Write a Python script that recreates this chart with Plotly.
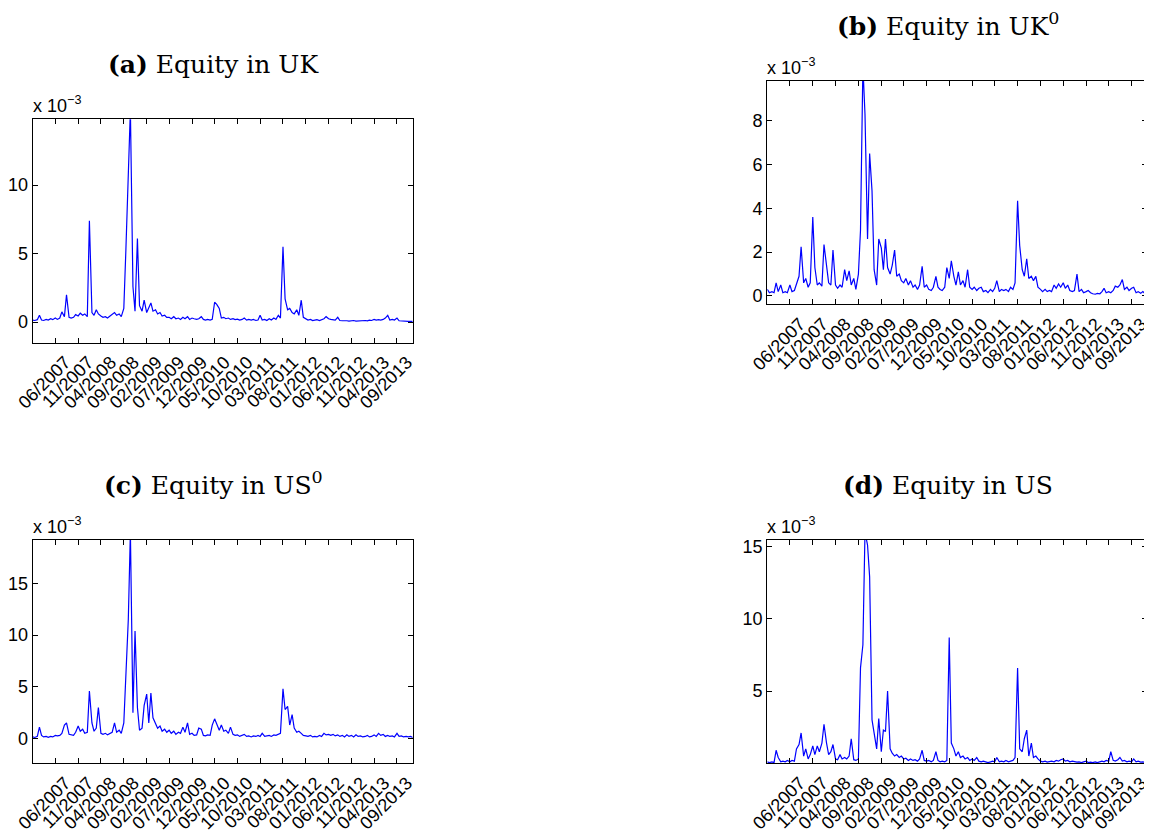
import pandas as pd
import plotly.graph_objects as go

# semi-monthly sampling dates (1st and 15th of each month), Jan 2007 - Dec 2013
dates = pd.date_range("2007-01-01", "2013-12-15", freq="SMS")

tick_dates = ["2007-06-01", "2007-11-01", "2008-04-01", "2008-09-01", "2009-02-01",
              "2009-07-01", "2009-12-01", "2010-05-01", "2010-10-01", "2011-03-01",
              "2011-08-01", "2012-01-01", "2012-06-01", "2012-11-01", "2013-04-01",
              "2013-09-01"]
tick_labels = ["06/2007", "11/2007", "04/2008", "09/2008", "02/2009", "07/2009",
               "12/2009", "05/2010", "10/2010", "03/2011", "08/2011", "01/2012",
               "06/2012", "11/2012", "04/2013", "09/2013"]

# values in units of 1e-3
equity_uk = [
    0.15, 0.12, 0.18, 0.5, 0.15, 0.12, 0.2, 0.15, 0.25, 0.18, 0.3, 0.2,
    0.3, 0.75, 0.4, 2.0, 0.35, 0.3, 0.35, 0.55, 0.45, 0.65, 0.5, 0.6,
    0.4, 7.4, 0.7, 0.5, 0.9, 0.6, 0.45, 0.35, 0.4, 0.3, 0.45, 0.6,
    0.7, 0.5, 0.6, 0.4, 1.0, 5.3, 10.8, 15.5, 2.6, 0.8, 6.1, 1.2,
    0.8, 1.6, 0.7, 1.0, 1.4, 0.8, 0.9, 0.6, 0.7, 0.45, 0.5, 0.35,
    0.35, 0.25, 0.4, 0.25, 0.3, 0.2, 0.35, 0.25, 0.4, 0.2, 0.3, 0.25,
    0.2, 0.25, 0.4, 0.2, 0.15, 0.2, 0.15, 0.2, 1.45, 1.3, 1.0, 0.3,
    0.35, 0.25, 0.3, 0.2, 0.25, 0.18, 0.22, 0.15, 0.2, 0.3, 0.15, 0.2,
    0.15, 0.2, 0.12, 0.15, 0.5, 0.15, 0.2, 0.12, 0.25, 0.15, 0.3, 0.2,
    0.5, 0.3, 5.5, 1.7, 0.9, 1.0, 0.7, 0.6, 0.9, 0.5, 1.6, 0.35,
    0.25, 0.15, 0.2, 0.12, 0.15, 0.18, 0.12, 0.2, 0.25, 0.4, 0.25, 0.2,
    0.2, 0.15, 0.35, 0.12, 0.1, 0.12, 0.1, 0.08, 0.1, 0.12, 0.08, 0.1,
    0.08, 0.1, 0.12, 0.1, 0.15, 0.12, 0.2, 0.15, 0.18, 0.15, 0.2, 0.3,
    0.5, 0.15, 0.2, 0.15, 0.3, 0.1, 0.08, 0.05, 0.08, 0.06, 0.05, 0.05,
]

equity_uk0 = [
    0.3, 0.15, 0.2, 0.15, 0.6, 0.2, 0.5, 0.15, 0.2, 0.15, 0.5, 0.2,
    0.25, 0.6, 0.9, 2.25, 0.6, 0.8, 0.4, 0.6, 3.6, 1.3, 0.5, 0.6,
    0.45, 2.35, 1.5, 0.6, 0.5, 2.1, 0.5, 0.35, 0.5, 0.4, 1.2, 0.7,
    1.15, 0.5, 0.8, 0.3, 1.0, 3.0, 10.5, 8.3, 2.6, 6.5, 4.8, 1.2,
    0.5, 2.6, 2.2, 1.2, 2.6, 1.3, 1.0, 1.4, 2.1, 0.9, 1.0, 0.7,
    0.6, 0.8, 0.5, 0.7, 0.4, 0.5, 0.3, 0.5, 1.35, 0.4, 0.5, 0.3,
    0.25, 0.4, 0.9, 0.4, 0.3, 0.25, 0.4, 1.3, 0.8, 1.6, 0.9, 0.5,
    1.1, 0.5, 0.7, 0.4, 1.2, 0.4, 0.3, 0.4, 0.25, 0.35, 0.4, 0.2,
    0.25, 0.15, 0.3, 0.2, 0.35, 0.7, 0.2, 0.3, 0.25, 0.3, 0.2, 0.4,
    0.3, 0.6, 4.35, 2.3, 1.2, 0.9, 1.7, 0.8, 0.9, 0.7, 0.9, 0.4,
    0.3, 0.2, 0.3, 0.2, 0.25, 0.2, 0.5, 0.35, 0.55, 0.4, 0.6, 0.35,
    0.5, 0.25, 0.2, 0.25, 1.0, 0.2, 0.3, 0.15, 0.2, 0.25, 0.15, 0.1,
    0.08, 0.12, 0.1, 0.2, 0.35, 0.15, 0.2, 0.15, 0.25, 0.45, 0.4, 0.5,
    0.75, 0.3, 0.4, 0.25, 0.35, 0.4, 0.15, 0.2, 0.12, 0.2, 0.1, 0.15,
]

equity_us0 = [
    0.15, 0.1, 0.2, 1.1, 0.3, 0.15, 0.2, 0.12, 0.2, 0.15, 0.3, 0.25,
    0.3, 0.5, 1.3, 1.5, 0.4, 0.35, 0.3, 0.6, 1.2, 0.7, 0.9, 0.5,
    0.6, 4.6, 1.5, 0.7, 1.0, 3.0, 0.5, 0.4, 0.5, 0.35, 0.5, 0.6,
    1.5, 0.6, 0.8, 0.5, 1.5, 6.1, 11.5, 20.0, 2.5, 10.4, 3.0, 0.8,
    1.0, 3.2, 4.3, 1.5, 4.4, 2.0, 1.4, 1.0, 1.2, 0.7, 0.9, 0.6,
    0.8, 0.5, 0.7, 0.4, 0.6, 0.5, 1.1, 0.6, 1.5, 0.4, 0.5, 0.3,
    0.35, 1.0, 0.9, 0.3, 0.25, 0.35, 0.3, 1.3, 1.9, 1.4, 0.8, 1.3,
    0.7, 0.8, 0.5, 1.1, 0.4, 0.3, 0.35, 0.2, 0.3, 0.4, 0.2, 0.25,
    0.15, 0.25, 0.2, 0.3, 0.2, 0.5, 0.2, 0.25, 0.3, 0.2, 0.35, 0.3,
    0.4, 0.5, 4.8, 2.8, 3.1, 1.3, 2.3, 1.0, 0.6, 0.7, 0.5, 0.3,
    0.25, 0.2, 0.3, 0.15, 0.2, 0.15, 0.3, 0.2, 0.5, 0.35, 0.4, 0.3,
    0.4, 0.25, 0.35, 0.2, 0.3, 0.15, 0.35, 0.2, 0.3, 0.15, 0.35, 0.2,
    0.25, 0.15, 0.2, 0.3, 0.15, 0.2, 0.35, 0.2, 0.5, 0.3, 0.4, 0.2,
    0.3, 0.2, 0.25, 0.15, 0.5, 0.2, 0.25, 0.15, 0.2, 0.15, 0.2, 0.1,
]

equity_us = [
    0.1, 0.05, 0.1, 0.05, 0.9, 0.4, 0.1, 0.15, 0.1, 0.2, 0.1, 0.2,
    0.15, 1.0, 1.3, 2.1, 0.5, 1.0, 0.3, 0.6, 1.2, 0.6, 1.2, 0.8,
    1.4, 2.7, 1.4, 0.6, 0.8, 1.3, 0.3, 0.25, 0.6, 0.3, 0.4, 0.3,
    0.5, 1.7, 0.25, 0.2, 0.3, 6.6, 8.2, 16.0, 15.1, 12.9, 3.0, 2.0,
    1.0, 3.1, 0.8, 2.3, 2.2, 5.0, 1.0, 0.7, 0.5, 0.6, 0.4, 0.5,
    0.3, 0.35, 0.2, 0.3, 0.2, 0.25, 0.15, 0.3, 0.9, 0.2, 0.15, 0.2,
    0.1, 0.2, 0.8, 0.2, 0.1, 0.15, 0.1, 0.2, 8.7, 1.4, 1.0, 0.5,
    0.8, 0.4, 0.5, 0.3, 0.4, 0.2, 0.3, 0.2, 0.4, 0.15, 0.1, 0.15,
    0.1, 0.05, 0.1, 0.15, 0.1, 0.4, 0.1, 0.15, 0.1, 0.2, 0.1, 0.15,
    0.2, 0.4, 6.6, 1.0, 0.8, 1.7, 2.3, 0.5, 1.4, 0.4, 0.5, 0.3,
    0.15, 0.1, 0.15, 0.08, 0.1, 0.15, 0.1, 0.2, 0.15, 0.25, 0.3, 0.15,
    0.2, 0.1, 0.15, 0.1, 0.08, 0.1, 0.05, 0.1, 0.15, 0.05, 0.08, 0.05,
    0.1, 0.05, 0.1, 0.15, 0.1, 0.2, 0.15, 0.8, 0.2, 0.15, 0.25, 0.4,
    0.15, 0.2, 0.1, 0.15, 0.1, 0.3, 0.1, 0.15, 0.08, 0.1, 0.05, 0.08,
]

titles = ["<b>(a)</b> Equity in UK", "<b>(b)</b> Equity in UK<sup>0</sup>",
          "<b>(c)</b> Equity in US<sup>0</sup>", "<b>(d)</b> Equity in US"]
series = [equity_uk, equity_uk0, equity_us0, equity_us]
y_ranges = [[-1.5, 14.8], [-0.38, 9.83], [-2.4, 19.2], [0, 15.45]]
y_ticks = [[0, 5, 10], [0, 2, 4, 6, 8], [0, 5, 10, 15], [5, 10, 15]]

PAGE_OFF = 8  # default page margin of the html body
W, H = 1152 - PAGE_OFF, 835 - PAGE_OFF
# panel boxes in page pixels: left, right, top, bottom
boxes = [(32.7, 412.7, 119.3, 342.7), (767.3, 1147.3, 80.7, 304.3),
         (32.7, 412.7, 540.0, 763.3), (767.3, 1147.3, 540.0, 763.3)]

fig = go.Figure()
annotations = []
tick_font = dict(family="Liberation Sans, Arial, sans-serif", size=18, color="black")

for i, (vals, box) in enumerate(zip(series, boxes)):
    n = i + 1
    xa = "x" if n == 1 else f"x{n}"
    ya = "y" if n == 1 else f"y{n}"
    fig.add_trace(go.Scatter(x=dates, y=vals, mode="lines",
                             line=dict(color="#0000ff", width=1.2),
                             xaxis=xa, yaxis=ya, showlegend=False,
                             hoverinfo="skip"))
    l, r, t, b = [v - PAGE_OFF for v in box]
    xdom = [l / W, r / W]
    ydom = [1 - b / H, 1 - t / H]
    axis_common = dict(showline=True, linecolor="black", linewidth=1.2,
                       mirror="ticks", ticks="inside", ticklen=5,
                       tickcolor="black", tickwidth=1, showgrid=False,
                       zeroline=False, tickfont=tick_font, automargin=False)
    fig.layout[f"xaxis{'' if n == 1 else n}"] = dict(
        domain=xdom, anchor=ya, type="date",
        range=["2007-01-01", "2013-12-15"],
        tickvals=tick_dates, ticktext=tick_labels, tickangle=-45,
        ticklabelshift=10, ticklabelstandoff=1, ticklabeloverflow="allow",
        **axis_common)
    fig.layout[f"yaxis{'' if n == 1 else n}"] = dict(
        domain=ydom, anchor=xa, range=y_ranges[i], tickvals=y_ticks[i],
        **axis_common)
    # title
    annotations.append(dict(text=titles[i], x=((l + r) / 2 - 9) / W,
                            y=ydom[1], xref="paper", yref="paper",
                            xanchor="center", yanchor="bottom", yshift=38,
                            showarrow=False,
                            font=dict(family="DejaVu Serif, serif", size=25,
                                      color="black")))
    # exponent label
    annotations.append(dict(text="x 10<sup>\u22123</sup>", x=xdom[0], y=ydom[1],
                            xref="paper", yref="paper", xanchor="left",
                            yanchor="bottom", yshift=1, xshift=-2, showarrow=False,
                            font=dict(family="Liberation Sans, Arial, sans-serif",
                                      size=18, color="black")))

fig.update_layout(width=W, height=H, margin=dict(l=0, r=0, t=0, b=0),
                  paper_bgcolor="white", plot_bgcolor="white",
                  annotations=annotations)

fig.write_html("out.html")
